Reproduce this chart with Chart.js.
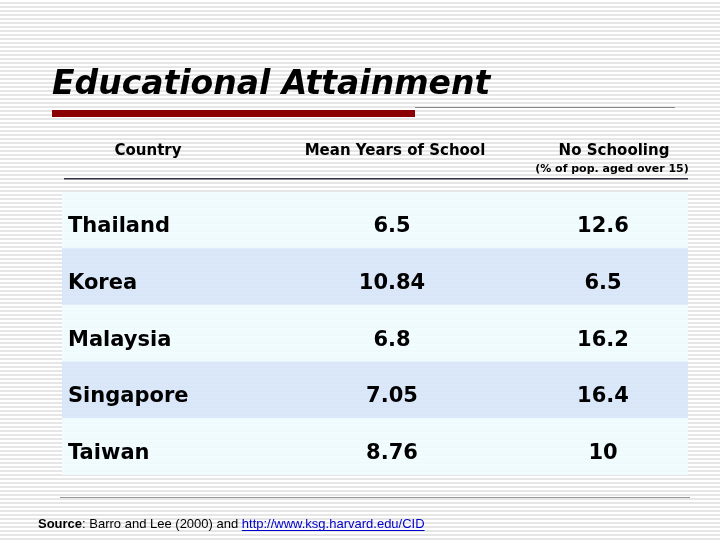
<!DOCTYPE html>
<html><head><meta charset="utf-8">
<script src="https://cdn.jsdelivr.net/npm/chart.js@4"></script>
<style>
html,body{margin:0;padding:0;}
body{width:720px;height:540px;background:#fff repeating-linear-gradient(to bottom,#fff 0px,#fff 2px,#e6e6e6 2px,#e6e6e6 4px);}
#w{position:absolute;left:0;top:0;width:720px;height:540px;}
</style></head><body>
<div id="w"><canvas id="c" width="720" height="540"></canvas></div>
<script>
const countries=["Thailand","Korea","Malaysia","Singapore","Taiwan"];
const meanYears=["6.5","10.84","6.8","7.05","8.76"];
const noSchooling=["12.6","6.5","16.2","16.4","10"];
const headers=["Country","Mean Years of School","No Schooling"];
const rowColors=["rgba(240,252,255,0.9)","rgba(215,230,248,0.9)","rgba(240,252,255,0.9)","rgba(215,230,248,0.9)","rgba(240,252,255,0.9)"];

const textPlugin={id:'txt',afterDraw(ch){
  const c=ch.ctx, ys=ch.scales.y;
  c.save();
  c.fillStyle='#000';c.textBaseline='alphabetic';
  c.font='italic bold 33px "DejaVu Sans"';c.textAlign='left';
  c.fillText('Educational Attainment',52,94);
  c.fillStyle='#8b0000';c.fillRect(52,110,363,7);
  c.fillStyle='#888';c.fillRect(415,107,260,1);
  c.fillStyle='#000';c.textAlign='center';
  c.font='bold 15px "DejaVu Sans"';
  c.fillText(headers[0],148,155);c.fillText(headers[1],395,155);c.fillText(headers[2],614,155);
  c.font='bold 11px "DejaVu Sans"';c.fillText('(% of pop. aged over 15)',612,172);
  c.fillStyle='#334';c.fillRect(64,178,624,1.5);
  c.fillStyle='#000';
  countries.forEach((n,i)=>{
    const y=ys.getPixelForValue(i)+12;
    c.font='bold 21px "DejaVu Sans"';c.textAlign='left';c.fillText(n,68,y);
    c.textAlign='center';c.fillText(meanYears[i],392,y);c.fillText(noSchooling[i],603,y);
  });
  c.fillStyle='#999';c.fillRect(60,497,630,1);
  c.textAlign='left';c.fillStyle='#000';
  c.font='bold 13px "Liberation Sans"';c.fillText('Source',38,528);
  let x=38+c.measureText('Source').width;
  c.font='13px "Liberation Sans"';
  const s=': Barro and Lee (2000) and ';c.fillText(s,x,528);x+=c.measureText(s).width;
  c.fillStyle='#00c';const l='http://www.ksg.harvard.edu/CID';c.fillText(l,x,528);
  c.fillRect(x,530,c.measureText(l).width,1);
  c.restore();
}};

new Chart(document.getElementById('c'),{
  type:'bar',
  data:{labels:countries,datasets:[{data:countries.map(()=>1),backgroundColor:rowColors,barPercentage:1,categoryPercentage:1,borderWidth:0}]},
  options:{indexAxis:'y',responsive:false,animation:false,
    layout:{padding:{left:62,right:32,top:192,bottom:65}},
    plugins:{legend:{display:false},tooltip:{enabled:false}},
    scales:{x:{display:false,min:0,max:1},y:{display:false}}},
  plugins:[textPlugin]
});
</script></body></html>
